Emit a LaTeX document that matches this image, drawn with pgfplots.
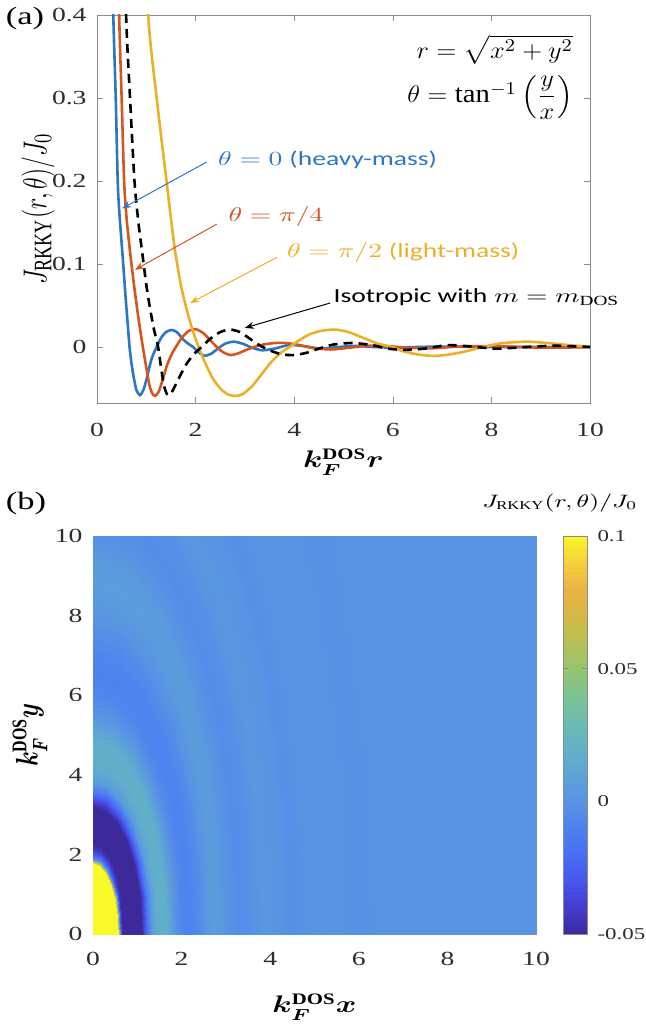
\documentclass[border=0pt]{standalone}
\usepackage{graphicx}
\usepackage{pgfplots}
\pgfplotsset{compat=1.18}
\usepackage{amsmath}
\usepackage{fontspec}
\setmainfont{Liberation Serif}
\newfontfamily\calibri{Carlito}
\usetikzlibrary{arrows.meta}

\definecolor{mblue}{RGB}{45,118,198}
\definecolor{mred}{RGB}{212,86,32}
\definecolor{myellow}{RGB}{234,176,40}
\definecolor{framegray}{RGB}{140,140,140}
\definecolor{ticktext}{RGB}{45,45,45}

% the reference is stretched sideways by about 1.38
\newcommand{\wide}[1]{\scalebox{1.38}[1]{#1}}
\newcommand{\tall}[1]{\scalebox{1}[1.38]{#1}}

\pgfplotsset{
  colormap={refparula}{
    rgb255=(60,42,155) rgb255=(68,60,205) rgb255=(72,86,238) rgb255=(72,110,245)
    rgb255=(78,130,238) rgb255=(88,147,228) rgb255=(93,163,214) rgb255=(99,178,198)
    rgb255=(108,188,176) rgb255=(124,195,146) rgb255=(150,196,112) rgb255=(183,192,84)
    rgb255=(212,185,68) rgb255=(236,178,70) rgb255=(244,208,58) rgb255=(249,248,40)
  },
  every axis/.append style={
    scale only axis,
    /pgf/number format/assume math mode=true,
    tick label style={font=\fontsize{10}{12}\selectfont, text=ticktext},
    xticklabel={\wide{\pgfmathprintnumber{\tick}}},
    yticklabel={\wide{\pgfmathprintnumber{\tick}}},
    axis line style={framegray},
    tick style={framegray},
    tick align=inside,
    major tick length=3pt,
  },
}

\begin{document}
\begin{tikzpicture}
\useasboundingbox (0,0) rectangle (323pt,-513pt);
\node[font=\fontsize{12.5}{14}\selectfont] at (12.5pt,-9pt) {\wide{(a)}};
\node[font=\fontsize{12.5}{14}\selectfont] at (13pt,-251.5pt) {\wide{(b)}};

% (a) line cuts
\begin{axis}[
  at={(48.5pt,-7.5pt)}, anchor=north west,
  width=246.5pt, height=194pt,
  xmin=0, xmax=10, ymin=-0.0675, ymax=0.4,
  xtick={0,2,4,6,8,10}, ytick={0,0.1,0.2,0.3,0.4},
  xticklabel style={yshift=-6.5pt},
  yticklabel style={xshift=-1.7pt},
  xlabel={\scalebox{1.3}[1]{\boldmath$k_F^{\mathrm{DOS}}r$}},
  xlabel style={at={(axis description cs:0.5,-0.152)}, anchor=center,
    font=\fontsize{12}{14}\selectfont},
  ylabel={\tall{$J_{\mathrm{RKKY}}(r,\theta)/J_0$}},
  ylabel style={at={(axis description cs:-0.1197,0.5)}, anchor=center,
    font=\fontsize{13}{15}\selectfont},
]
  % theta = 0
  \addplot[mblue, line width=1.3pt, smooth, tension=0.4] coordinates {
    (0.25,0.60) (0.33,0.40) (0.38,0.30) (0.42,0.20) (0.45,0.165) (0.51,0.117)
    (0.55,0.085) (0.58,0.06) (0.62,0.03) (0.66,0) (0.70,-0.02) (0.74,-0.035)
    (0.80,-0.052) (0.87,-0.058) (0.94,-0.052) (1.00,-0.040) (1.06,-0.025)
    (1.12,-0.012) (1.21,0) (1.30,0.011) (1.40,0.018) (1.51,0.0205) (1.62,0.018)
    (1.75,0.009) (1.85,0.004) (1.95,0) (2.05,-0.006) (2.18,-0.0105) (2.32,-0.008)
    (2.45,-0.002) (2.60,0.004) (2.77,0.0064) (2.95,0.004) (3.15,-0.001)
    (3.35,-0.004) (3.60,-0.002) (3.90,0.0025) (4.20,0.001) (4.55,-0.002)
    (4.90,0) (5.25,0.0012) (5.60,0) (6.00,-0.0008) (6.50,0) (7.00,0.0005)
    (8.00,0) (9.00,0) (10,0)
  };
  % theta = pi/4
  \addplot[mred, line width=1.3pt, smooth, tension=0.4] coordinates {
    (0.40,0.60) (0.45,0.40) (0.50,0.30) (0.55,0.20) (0.60,0.155) (0.67,0.115)
    (0.75,0.075) (0.84,0.035) (0.93,0) (1.00,-0.025) (1.06,-0.045) (1.12,-0.056)
    (1.18,-0.059) (1.25,-0.054) (1.33,-0.040) (1.42,-0.022) (1.52,-0.008)
    (1.62,0.002) (1.72,0.011) (1.85,0.019) (2.00,0.0215) (2.15,0.017)
    (2.30,0.008) (2.43,0) (2.55,-0.006) (2.70,-0.0097) (2.85,-0.008)
    (3.05,-0.003) (3.30,0.002) (3.55,0.0045) (3.78,0.005) (4.05,0.003)
    (4.40,-0.0015) (4.75,-0.003) (5.10,-0.001) (5.50,0.0015) (5.90,0.001)
    (6.30,-0.001) (6.80,-0.0015) (7.20,0) (7.60,0.001) (8.20,0.0008)
    (8.80,-0.0005) (9.40,-0.0008) (10,0)
  };
  % theta = pi/2
  \addplot[myellow, line width=1.3pt, smooth, tension=0.4] coordinates {
    (0.95,0.60) (1.04,0.40) (1.21,0.30) (1.41,0.20) (1.50,0.155) (1.58,0.117)
    (1.70,0.075) (1.82,0.045) (1.94,0.02) (2.06,0) (2.20,-0.02) (2.35,-0.038)
    (2.50,-0.05) (2.65,-0.057) (2.80,-0.059) (2.95,-0.057) (3.15,-0.047)
    (3.35,-0.032) (3.55,-0.017) (3.75,-0.006) (3.91,0) (4.10,0.008) (4.30,0.015)
    (4.55,0.0195) (4.83,0.021) (5.10,0.018) (5.40,0.011) (5.70,0.004) (5.98,0)
    (6.20,-0.005) (6.50,-0.009) (6.82,-0.0108) (7.15,-0.009) (7.50,-0.005)
    (7.83,0) (8.20,0.0045) (8.72,0.0064) (9.20,0.0045) (9.60,0.002) (10,0.0005)
  };
  % isotropic, m = m_DOS
  \addplot[black, line width=1.3pt, dash pattern=on 4.5pt off 3pt, smooth, tension=0.4] coordinates {
    (0.52,0.60) (0.59,0.40) (0.67,0.30) (0.76,0.20) (0.84,0.15) (0.91,0.117)
    (1.00,0.075) (1.08,0.045) (1.16,0.02) (1.24,0) (1.30,-0.025) (1.36,-0.047)
    (1.43,-0.058) (1.50,-0.056) (1.60,-0.045) (1.70,-0.033) (1.82,-0.020)
    (1.96,-0.009) (2.12,0) (2.30,0.010) (2.50,0.018) (2.70,0.021) (2.90,0.018)
    (3.10,0.010) (3.30,0.002) (3.50,-0.004) (3.75,-0.009) (4.00,-0.0097)
    (4.25,-0.007) (4.50,-0.002) (4.80,0.003) (5.20,0.0048) (5.60,0.002)
    (5.90,-0.002) (6.25,-0.0035) (6.65,-0.002) (7.10,0.0022) (7.50,0.001)
    (8.10,-0.002) (8.70,0) (9.30,0.0015) (10,0)
  };

  \coordinate (b0) at (axis cs:2.23,0.223);
  \coordinate (b1) at (axis cs:0.51,0.167);
  \coordinate (r0) at (axis cs:2.43,0.148);
  \coordinate (r1) at (axis cs:0.77,0.093);
  \coordinate (y0) at (axis cs:3.65,0.108);
  \coordinate (y1) at (axis cs:1.89,0.053);
  \coordinate (k0) at (axis cs:4.73,0.053);
  \coordinate (k1) at (axis cs:3.00,0.023);
  \coordinate (tb) at (axis cs:2.45,0.225);
  \coordinate (tr) at (axis cs:2.66,0.157);
  \coordinate (ty) at (axis cs:3.85,0.114);
  \coordinate (tk) at (axis cs:4.79,0.060);
  \coordinate (f1) at (axis cs:9.66,0.358);
  \coordinate (f2) at (axis cs:9.66,0.301);
\end{axis}

\draw[mblue, line width=0.5pt, -{Stealth[length=4.5pt, width=3.5pt]}] (b0) -- (b1);
\draw[mred, line width=0.5pt, -{Stealth[length=4.5pt, width=3.5pt]}] (r0) -- (r1);
\draw[myellow, line width=0.5pt, -{Stealth[length=4.5pt, width=3.5pt]}] (y0) -- (y1);
\draw[black, line width=0.5pt, -{Stealth[length=4.5pt, width=3.5pt]}] (k0) -- (k1);

\node[anchor=west, text=mblue, font=\fontsize{10}{12}\selectfont, inner sep=0pt]
  at (tb) {\wide{$\theta=0$ {\calibri(heavy-mass)}}};
\node[anchor=west, text=mred, font=\fontsize{10}{12}\selectfont, inner sep=0pt]
  at (tr) {\wide{$\theta=\pi/4$}};
\node[anchor=west, text=myellow, font=\fontsize{10}{12}\selectfont, inner sep=0pt]
  at (ty) {\wide{$\theta=\pi/2$ {\calibri(light-mass)}}};
\node[anchor=west, text=black, font=\fontsize{10}{12}\selectfont, inner sep=0pt]
  at (tk) {\wide{{\calibri Isotropic with} $m=m_{\mathrm{DOS}}$}};
\node[anchor=east, font=\fontsize{13}{15}\selectfont, inner sep=0pt]
  at (f1) {\scalebox{1.1}[1]{$r=\sqrt{x^2+y^2}$}};
\node[anchor=east, font=\fontsize{13}{15}\selectfont, inner sep=0pt]
  at (f2) {\scalebox{1.1}[1]{$\theta=\tan^{-1}\left(\dfrac{y}{x}\right)$}};

% (b) map; its y axis runs in y/3, and each row of the table is one contour:
% angle (deg), radius, value
\begin{axis}[
  at={(46.5pt,-268pt)}, anchor=north west,
  width=221.5pt, height=199pt,
  xmin=0, xmax=10, ymin=0, ymax=3.3333,
  xtick={0,2,4,6,8,10},
  ytick={0,0.66667,1.33333,2,2.66667,3.3333},
  yticklabels={\wide{0},\wide{2},\wide{4},\wide{6},\wide{8},\wide{10}},
  xticklabel style={yshift=-5.7pt},
  yticklabel style={xshift=-1.7pt},
  axis line style={draw=none},
  major tick length=0pt,
  colormap name=refparula,
  point meta min=-0.05, point meta max=0.1,
  colorbar,
  colorbar style={
    at={(parent axis.north east)}, anchor=north west, xshift=5pt,
    scale only axis, width=12pt,
    ytick={-0.05,0,0.05,0.1},
    yticklabels={\wide{-0.05},\wide{0},\wide{0.05},\wide{0.1}},
    yticklabel style={xshift=1.7pt, font=\fontsize{8.3}{10}\selectfont},
    axis line style={draw=framegray},
    major tick length=2.5pt,
  },
  xlabel={\scalebox{1.3}[1]{\boldmath$k_F^{\mathrm{DOS}}x$}},
  xlabel style={at={(axis description cs:0.5,-0.1834)}, anchor=center,
    font=\fontsize{12}{14}\selectfont},
  ylabel={\scalebox{1}[1.3]{\boldmath$k_F^{\mathrm{DOS}}y$}},
  ylabel style={at={(axis description cs:-0.1422,0.5)}, anchor=center,
    font=\fontsize{12}{14}\selectfont},
]
\addplot[surf, shader=interp, data cs=polar, mesh/cols=7, point meta=explicit]
  table[x=a, y=u, meta=c, row sep=\\] {
a u c\\
0 0 0.6\\ 15 0 0.6\\ 30 0 0.6\\ 45 0 0.6\\ 60 0 0.6\\ 75 0 0.6\\ 90 0 0.6\\
0 0.500 0.15\\ 15 0.502 0.15\\ 30 0.508 0.15\\ 45 0.515 0.15\\ 60 0.523 0.15\\ 75 0.528 0.15\\ 90 0.530 0.15\\
0 0.555 0.10\\ 15 0.558 0.10\\ 30 0.565 0.10\\ 45 0.574 0.10\\ 60 0.584 0.10\\ 75 0.590 0.10\\ 90 0.593 0.10\\
0 0.585 0.05\\ 15 0.587 0.05\\ 30 0.591 0.05\\ 45 0.598 0.05\\ 60 0.604 0.05\\ 75 0.608 0.05\\ 90 0.610 0.05\\
0 0.610 0\\ 15 0.611 0\\ 30 0.613 0\\ 45 0.617 0\\ 60 0.620 0\\ 75 0.622 0\\ 90 0.623 0\\
0 0.635 -0.03\\ 15 0.637 -0.03\\ 30 0.643 -0.03\\ 45 0.651 -0.03\\ 60 0.659 -0.03\\ 75 0.665 -0.03\\ 90 0.667 -0.03\\
0 0.655 -0.045\\ 15 0.659 -0.045\\ 30 0.671 -0.045\\ 45 0.688 -0.045\\ 60 0.704 -0.045\\ 75 0.716 -0.045\\ 90 0.720 -0.045\\
0 0.680 -0.06\\ 15 0.685 -0.06\\ 30 0.700 -0.06\\ 45 0.720 -0.06\\ 60 0.740 -0.06\\ 75 0.755 -0.06\\ 90 0.760 -0.06\\
0 0.800 -0.072\\ 15 0.805 -0.072\\ 30 0.820 -0.072\\ 45 0.840 -0.072\\ 60 0.860 -0.072\\ 75 0.875 -0.072\\ 90 0.880 -0.072\\
0 0.950 -0.072\\ 15 0.952 -0.072\\ 30 0.958 -0.072\\ 45 0.965 -0.072\\ 60 0.973 -0.072\\ 75 0.978 -0.072\\ 90 0.980 -0.072\\
0 1.060 -0.06\\ 15 1.059 -0.06\\ 30 1.055 -0.06\\ 45 1.050 -0.06\\ 60 1.045 -0.06\\ 75 1.041 -0.06\\ 90 1.040 -0.06\\
0 1.100 -0.05\\ 15 1.098 -0.05\\ 30 1.092 -0.05\\ 45 1.084 -0.05\\ 60 1.075 -0.05\\ 75 1.069 -0.05\\ 90 1.067 -0.05\\
0 1.160 -0.035\\ 15 1.157 -0.035\\ 30 1.150 -0.035\\ 45 1.140 -0.035\\ 60 1.130 -0.035\\ 75 1.123 -0.035\\ 90 1.120 -0.035\\
0 1.240 -0.015\\ 15 1.237 -0.015\\ 30 1.228 -0.015\\ 45 1.215 -0.015\\ 60 1.203 -0.015\\ 75 1.193 -0.015\\ 90 1.190 -0.015\\
0 1.330 0.005\\ 15 1.326 0.005\\ 30 1.315 0.005\\ 45 1.300 0.005\\ 60 1.285 0.005\\ 75 1.274 0.005\\ 90 1.270 0.005\\
0 1.420 0.015\\ 15 1.417 0.015\\ 30 1.410 0.015\\ 45 1.400 0.015\\ 60 1.390 0.015\\ 75 1.383 0.015\\ 90 1.380 0.015\\
0 1.550 0.019\\ 15 1.547 0.019\\ 30 1.538 0.019\\ 45 1.525 0.019\\ 60 1.513 0.019\\ 75 1.503 0.019\\ 90 1.500 0.019\\
0 1.660 0.017\\ 15 1.657 0.017\\ 30 1.650 0.017\\ 45 1.640 0.017\\ 60 1.630 0.017\\ 75 1.623 0.017\\ 90 1.620 0.017\\
0 1.750 0.010\\ 15 1.748 0.010\\ 30 1.743 0.010\\ 45 1.735 0.010\\ 60 1.728 0.010\\ 75 1.722 0.010\\ 90 1.720 0.010\\
0 1.860 0\\ 15 1.859 0\\ 30 1.858 0\\ 45 1.855 0\\ 60 1.853 0\\ 75 1.851 0\\ 90 1.850 0\\
0 1.980 -0.007\\ 15 1.981 -0.007\\ 30 1.985 -0.007\\ 45 1.990 -0.007\\ 60 1.995 -0.007\\ 75 1.999 -0.007\\ 90 2.000 -0.007\\
0 2.120 -0.010\\ 15 2.122 -0.010\\ 30 2.128 -0.010\\ 45 2.135 -0.010\\ 60 2.143 -0.010\\ 75 2.148 -0.010\\ 90 2.150 -0.010\\
0 2.250 -0.009\\ 15 2.253 -0.009\\ 30 2.263 -0.009\\ 45 2.275 -0.009\\ 60 2.288 -0.009\\ 75 2.297 -0.009\\ 90 2.300 -0.009\\
0 2.420 -0.004\\ 15 2.425 -0.004\\ 30 2.440 -0.004\\ 45 2.460 -0.004\\ 60 2.480 -0.004\\ 75 2.495 -0.004\\ 90 2.500 -0.004\\
0 2.550 0.002\\ 15 2.560 0.002\\ 30 2.588 0.002\\ 45 2.625 0.002\\ 60 2.663 0.002\\ 75 2.690 0.002\\ 90 2.700 0.002\\
0 2.720 0.006\\ 15 2.735 0.006\\ 30 2.778 0.006\\ 45 2.835 0.006\\ 60 2.893 0.006\\ 75 2.935 0.006\\ 90 2.950 0.006\\
0 2.900 0.004\\ 15 2.917 0.004\\ 30 2.963 0.004\\ 45 3.025 0.004\\ 60 3.088 0.004\\ 75 3.133 0.004\\ 90 3.150 0.004\\
0 3.080 -0.001\\ 15 3.098 -0.001\\ 30 3.148 -0.001\\ 45 3.215 -0.001\\ 60 3.283 -0.001\\ 75 3.332 -0.001\\ 90 3.350 -0.001\\
0 3.300 -0.004\\ 15 3.317 -0.004\\ 30 3.363 -0.004\\ 45 3.425 -0.004\\ 60 3.488 -0.004\\ 75 3.533 -0.004\\ 90 3.550 -0.004\\
0 3.550 -0.002\\ 15 3.567 -0.002\\ 30 3.613 -0.002\\ 45 3.675 -0.002\\ 60 3.738 -0.002\\ 75 3.783 -0.002\\ 90 3.800 -0.002\\
0 3.850 0.003\\ 15 3.867 0.003\\ 30 3.913 0.003\\ 45 3.975 0.003\\ 60 4.038 0.003\\ 75 4.083 0.003\\ 90 4.100 0.003\\
0 4.150 0.001\\ 15 4.167 0.001\\ 30 4.213 0.001\\ 45 4.275 0.001\\ 60 4.338 0.001\\ 75 4.383 0.001\\ 90 4.400 0.001\\
0 4.500 -0.002\\ 15 4.513 -0.002\\ 30 4.550 -0.002\\ 45 4.600 -0.002\\ 60 4.650 -0.002\\ 75 4.687 -0.002\\ 90 4.700 -0.002\\
0 4.850 0\\ 15 4.860 0\\ 30 4.888 0\\ 45 4.925 0\\ 60 4.963 0\\ 75 4.990 0\\ 90 5.000 0\\
0 5.200 0.0015\\ 15 5.210 0.0015\\ 30 5.238 0.0015\\ 45 5.275 0.0015\\ 60 5.313 0.0015\\ 75 5.340 0.0015\\ 90 5.350 0.0015\\
0 5.600 0\\ 15 5.607 0\\ 30 5.625 0\\ 45 5.650 0\\ 60 5.675 0\\ 75 5.693 0\\ 90 5.700 0\\
0 6.000 -0.001\\ 15 6.007 -0.001\\ 30 6.025 -0.001\\ 45 6.050 -0.001\\ 60 6.075 -0.001\\ 75 6.093 -0.001\\ 90 6.100 -0.001\\
0 6.500 0\\ 15 6.507 0\\ 30 6.525 0\\ 45 6.550 0\\ 60 6.575 0\\ 75 6.593 0\\ 90 6.600 0\\
0 12 0\\ 15 12 0\\ 30 12 0\\ 45 12 0\\ 60 12 0\\ 75 12 0\\ 90 12 0\\
};
\end{axis}
\node[font=\fontsize{9}{11}\selectfont] at (280pt,-251.5pt) {\wide{$J_{\mathrm{RKKY}}(r,\theta)/J_0$}};
\end{tikzpicture}
\end{document}
